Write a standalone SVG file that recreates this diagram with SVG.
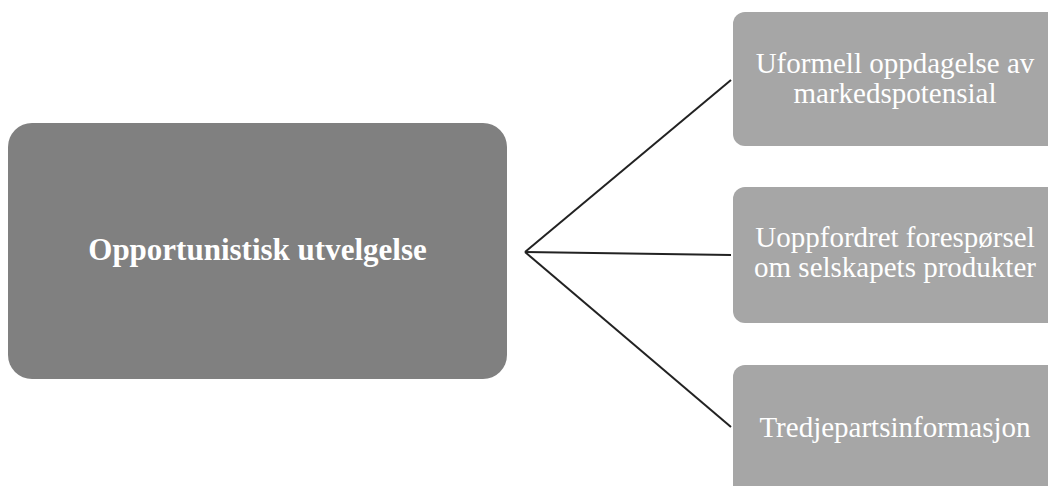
<svg xmlns="http://www.w3.org/2000/svg" width="1048" height="486" viewBox="0 0 1048 486">
<style>
.main{fill:#808080}
.sub{fill:#a6a6a6}
.t{font-family:"Liberation Serif","Times New Roman",serif;fill:#ffffff;text-anchor:middle}
.mt{font-size:31px;font-weight:bold}
.st{font-size:29px}
.conn{stroke:#222222;stroke-width:2;fill:none}
</style>
<rect width="1048" height="486" fill="#ffffff"/>
<g id="connectors">
<line class="conn" x1="525" y1="252" x2="731" y2="80"/>
<line class="conn" x1="525" y1="252" x2="731" y2="255"/>
<line class="conn" x1="525" y1="252" x2="731" y2="427"/>
</g>
<g id="node-main">
<rect class="main" x="8" y="123" width="499" height="256" rx="24"/>
<text class="t mt" x="257.5" y="260">Opportunistisk utvelgelse</text>
</g>
<g id="node-1">
<rect class="sub" x="733" y="12" width="330" height="134" rx="12"/>
<text class="t st" x="895" y="73">Uformell oppdagelse av</text>
<text class="t st" x="895" y="103">markedspotensial</text>
</g>
<g id="node-2">
<rect class="sub" x="733" y="187" width="330" height="136" rx="12"/>
<text class="t st" x="895" y="247">Uoppfordret forespørsel</text>
<text class="t st" x="895" y="277">om selskapets produkter</text>
</g>
<g id="node-3">
<rect class="sub" x="733" y="365" width="330" height="136" rx="12"/>
<text class="t st" x="895" y="437">Tredjepartsinformasjon</text>
</g>
</svg>
